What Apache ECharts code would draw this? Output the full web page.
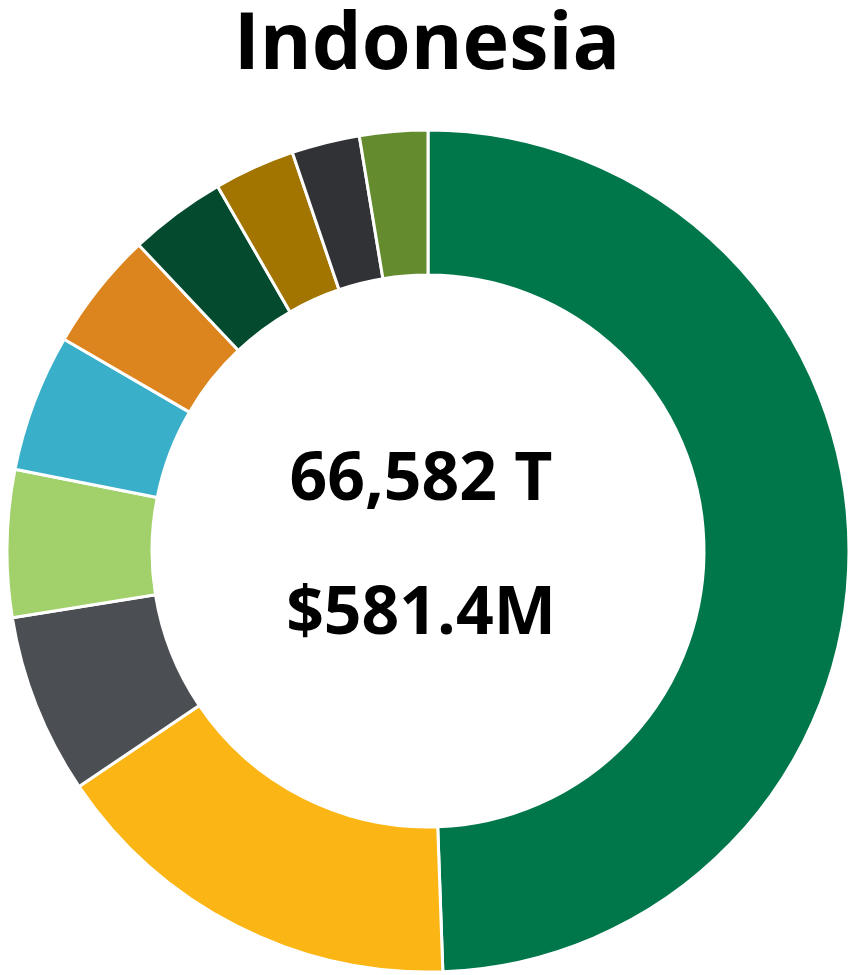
<!DOCTYPE html>
<html>
<head>
<meta charset="utf-8">
<script src="https://cdn.jsdelivr.net/npm/echarts@6/dist/echarts.min.js"></script>
<style>
  html, body { margin: 0; padding: 0; background: #fff; }
  #chart { width: 851px; height: 975px; }
</style>
</head>
<body>
<div id="chart"></div>
<script>
// tonnes per segment, clockwise from 12 o'clock
const segments = ['Segment 1', 'Segment 2', 'Segment 3', 'Segment 4', 'Segment 5',
  'Segment 6', 'Segment 7', 'Segment 8', 'Segment 9', 'Segment 10']
const tonnes = [32917, 10727, 4607, 3755, 3516, 3036, 2477, 2071, 1738, 1738]
const colors = ['#00774A', '#FBB615', '#4B4F54', '#A2D06A', '#3AAFC9',
  '#DC851E', '#034A2E', '#A27400', '#313236', '#648C2F']

const titleText = 'Indonesia'
const totalText = '66,582 T'
const valueText = '$581.4M'

const font = '"Open Sans", "Liberation Sans", sans-serif'

const chart = echarts.init(document.getElementById('chart'), null, { renderer: 'canvas' })

chart.setOption({
  backgroundColor: '#fff',
  animation: false,
  graphic: [
    {
      type: 'text', x: 427, y: 46,
      style: { text: titleText, fill: '#000', font: 'bold 79px ' + font, textAlign: 'center', textVerticalAlign: 'middle' }
    },
    {
      type: 'text', x: 421, y: 481,
      style: { text: totalText, fill: '#000', font: 'bold 66px ' + font, textAlign: 'center', textVerticalAlign: 'middle' }
    },
    {
      type: 'text', x: 421, y: 615,
      style: { text: valueText, fill: '#000', font: 'bold 66px ' + font, textAlign: 'center', textVerticalAlign: 'middle' }
    }
  ],
  series: [{
    type: 'pie',
    center: [428, 551],
    radius: [276, 421],
    startAngle: 90,
    clockwise: true,
    label: { show: false },
    labelLine: { show: false },
    emphasis: { disabled: true },
    itemStyle: { borderColor: '#fff', borderWidth: 3 },
    data: segments.map((name, i) => ({
      name,
      value: tonnes[i],
      itemStyle: { color: colors[i] }
    }))
  }]
})
</script>
</body>
</html>
